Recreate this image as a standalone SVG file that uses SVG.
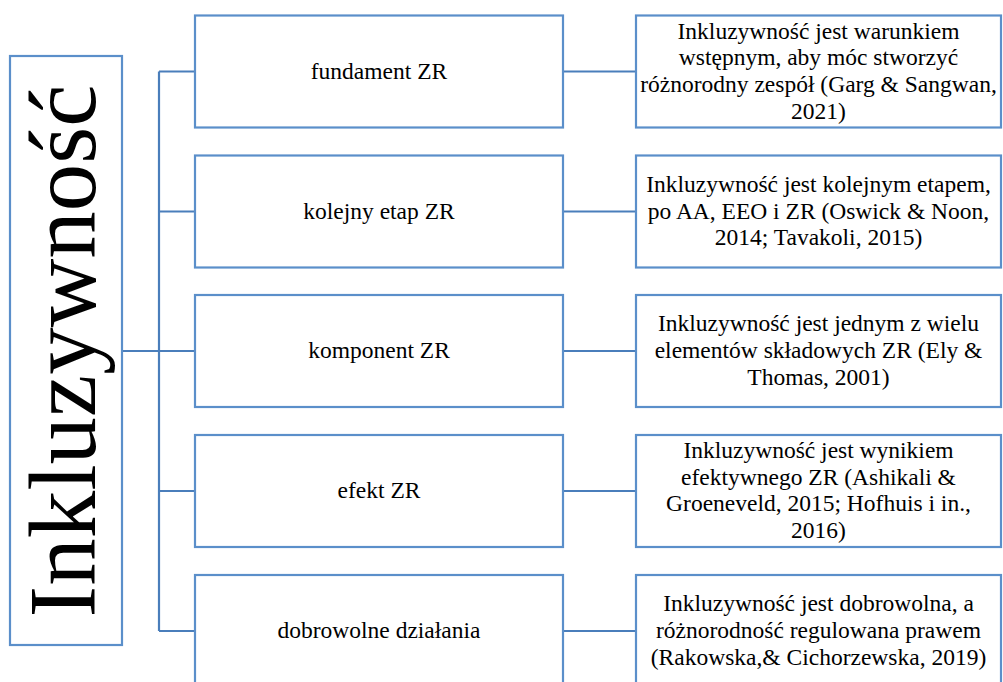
<svg xmlns="http://www.w3.org/2000/svg" width="1003" height="682" viewBox="0 0 1003 682">
  <style>
    .box { fill: #ffffff; stroke: #5b8fca; stroke-width: 2.2; }
    .wire { fill: none; stroke: #4a7ebb; stroke-width: 2.2; }
    .txt { font-family: "Liberation Serif", Tinos, "Times New Roman", Times, "Nimbus Roman", "Nimbus Roman No9 L", FreeSerif, "Noto Serif", "DejaVu Serif", "Noto Serif CJK SC", serif; fill: #000000; text-anchor: middle; }
    .mid { font-size: 23.5px; }
    .note { font-size: 23.5px; }
    .big { font-size: 95px; }
  </style>

  <rect width="1003" height="682" fill="#ffffff"/>

  <!-- connectors -->
  <g id="connectors">
    <path class="wire" d="M122 351 H159 M159 71.5 V631"/>
    <path class="wire" d="M159 71.5 H195 M159 211.5 H195 M159 351 H195 M159 491 H195 M159 631 H195"/>
    <path class="wire" d="M563 71.5 H636 M563 211.5 H636 M563 351 H636 M563 491 H636 M563 631 H636"/>
  </g>

  <g class="txt">
  <!-- root -->
  <g id="root">
    <rect class="box" x="10" y="56" width="112" height="589"/>
    <text class="big" transform="translate(95,351) rotate(-90)">Inkluzywność</text>
  </g>

  <!-- categories -->
  <g id="cat-fundament">
    <rect class="box" x="195" y="15.5" width="368" height="112"/>
    <text class="mid" x="379" y="78.5">fundament ZR</text>
  </g>
  <g id="cat-etap">
    <rect class="box" x="195" y="155.5" width="368" height="112"/>
    <text class="mid" x="379" y="218.5">kolejny etap ZR</text>
  </g>
  <g id="cat-komponent">
    <rect class="box" x="195" y="295" width="368" height="112"/>
    <text class="mid" x="379" y="358">komponent ZR</text>
  </g>
  <g id="cat-efekt">
    <rect class="box" x="195" y="435" width="368" height="112"/>
    <text class="mid" x="379" y="498">efekt ZR</text>
  </g>
  <g id="cat-dobrowolne">
    <rect class="box" x="195" y="575" width="368" height="112"/>
    <text class="mid" x="379" y="638">dobrowolne działania</text>
  </g>

  <!-- descriptions -->
  <g id="note-fundament">
    <rect class="box" x="636" y="15.5" width="365" height="112"/>
    <text class="note" x="818.5" y="38.5">Inkluzywność jest warunkiem</text>
    <text class="note" x="818.5" y="65.2">wstępnym, aby móc stworzyć</text>
    <text class="note" x="818.5" y="91.9">różnorodny zespół (Garg &amp; Sangwan,</text>
    <text class="note" x="818.5" y="118.6">2021)</text>
  </g>
  <g id="note-etap">
    <rect class="box" x="636" y="155.5" width="365" height="112"/>
    <text class="note" x="818.5" y="191.8">Inkluzywność jest kolejnym etapem,</text>
    <text class="note" x="818.5" y="218.5">po AA, EEO i ZR (Oswick &amp; Noon,</text>
    <text class="note" x="818.5" y="245.2">2014; Tavakoli, 2015)</text>
  </g>
  <g id="note-komponent">
    <rect class="box" x="636" y="295" width="365" height="112"/>
    <text class="note" x="818.5" y="331.3">Inkluzywność jest jednym z wielu</text>
    <text class="note" x="818.5" y="358">elementów składowych ZR (Ely &amp;</text>
    <text class="note" x="818.5" y="384.7">Thomas, 2001)</text>
  </g>
  <g id="note-efekt">
    <rect class="box" x="636" y="435" width="365" height="112"/>
    <text class="note" x="818.5" y="458">Inkluzywność jest wynikiem</text>
    <text class="note" x="818.5" y="484.7">efektywnego ZR (Ashikali &amp;</text>
    <text class="note" x="818.5" y="511.4">Groeneveld, 2015; Hofhuis i in.,</text>
    <text class="note" x="818.5" y="538.1">2016)</text>
  </g>
  <g id="note-dobrowolne">
    <rect class="box" x="636" y="575" width="365" height="112"/>
    <text class="note" x="818.5" y="611.3">Inkluzywność jest dobrowolna, a</text>
    <text class="note" x="818.5" y="638">różnorodność regulowana prawem</text>
    <text class="note" x="818.5" y="664.7">(Rakowska,&amp; Cichorzewska, 2019)</text>
  </g>
  </g>
</svg>
